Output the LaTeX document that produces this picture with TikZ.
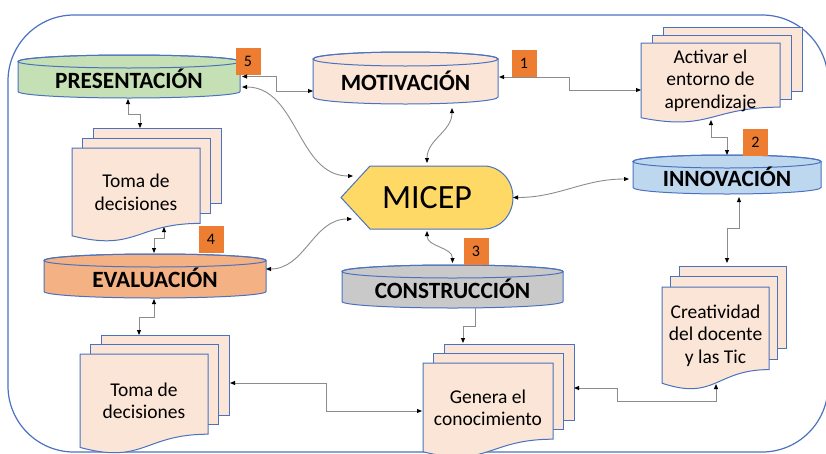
\documentclass[tikz,border=0pt]{standalone}
\usepackage{fontspec}
\setmainfont{Carlito}
\usetikzlibrary{arrows.meta,calc}
\definecolor{peach}{HTML}{FBE5D6}
\definecolor{pgreen}{HTML}{C5E0B4}
\definecolor{pblue}{HTML}{BDD7EE}
\definecolor{porange}{HTML}{F4B183}
\definecolor{pgray}{HTML}{C9C9C9}
\definecolor{pgold}{HTML}{FFD966}
\definecolor{badgeor}{HTML}{ED7D31}
\definecolor{edge}{HTML}{4A72BE}
\definecolor{conn}{HTML}{8C8C8C}
\tikzset{
  shapeline/.style={draw=edge, line width=1pt},
  box/.style={inner sep=0pt, outer sep=0pt, draw=none},
  cyltext/.style={font=\fontsize{23.3}{26}\selectfont\bfseries, inner sep=0pt, anchor=base},
  doctext/.style={font=\fontsize{19.5}{22.5}\selectfont, align=center, inner sep=0pt},
  badge/.style={fill=badgeor, minimum width=25pt, minimum height=27pt, inner sep=0pt, font=\fontsize{16}{16}\selectfont},
  tip/.tip={Triangle[length=5pt,width=4pt,color=black]},
  link/.style={draw=conn, line width=0.9pt, tip-tip},
  linkone/.style={draw=conn, line width=0.9pt, -tip},
}
\newcommand\Cyl[8]{%
  \pgfmathsetmacro\cylhw{(#4-#2)/2}%
  \pgfmathsetmacro\cylcx{(#2+#4)/2}%
  \pgfmathsetmacro\cylcy{(#3+#5)/2}%
  \pgfmathsetmacro\cylty{(#3+#5)/2+#6/2+8.5}%
  \pgfmathsetmacro\cylht{#5-#3}%
  \pgfmathsetmacro\cylwd{#4-#2}%
  \filldraw[shapeline, fill=#7] (#2,#3+#6) -- (#2,#5-#6)
     arc[start angle=180,end angle=360,x radius=\cylhw pt,y radius=#6pt]
     -- (#4,#3+#6)
     arc[start angle=0,end angle=180,x radius=\cylhw pt,y radius=#6pt] -- cycle;
  \draw[shapeline] (\cylcx,#3+#6) ellipse[x radius=\cylhw pt,y radius=#6pt];
  \node[box, minimum width=\cylwd pt, minimum height=\cylht pt] (#1) at (\cylcx,\cylcy) {};
  \node[cyltext] (#1-t) at (\cylcx,\cylty) {#8};
}
\newcommand\Docs[8]{%
  \pgfmathsetmacro\docA{#3+0.802*#5}%
  \pgfmathsetmacro\docB{#3+1.107*#5}%
  \pgfmathsetmacro\docC{#3+0.934*#5}%
  \pgfmathsetmacro\docM{#2+0.5*#4}%
  \pgfmathsetmacro\docR{#2+#4}%
  \pgfmathsetmacro\docBW{#4+2*#6}%
  \pgfmathsetmacro\docBH{#5+2*#7}%
  \pgfmathsetmacro\docBX{#2+#4/2+#6}%
  \pgfmathsetmacro\docBY{#3+#5/2-#7}%
  \pgfmathsetmacro\docTY{#3+0.47*#5}%
  \filldraw[shapeline, fill=peach] (#2+2*#6,#3-2*#7) rectangle (\docR+2*#6,\docA-2*#7);
  \filldraw[shapeline, fill=peach] (#2+#6,#3-#7) rectangle (\docR+#6,\docA-#7);
  \filldraw[shapeline, fill=peach] (#2,#3) -- (\docR,#3) -- (\docR,\docA)
     .. controls (\docM,\docA) and (\docM,\docB) .. (#2,\docC) -- cycle;
  \node[box, minimum width=\docBW pt, minimum height=\docBH pt] (#1) at (\docBX,\docBY) {};
  \node[doctext] (#1-t) at (\docM,\docTY) {#8};
}
\begin{document}
\begin{tikzpicture}[x=1pt,y=-1pt]
\useasboundingbox (0,0) rectangle (826,453);
\draw[draw=edge, line width=1.2pt, rounded corners=66pt] (8,15) rectangle (828,452);

% cylinders
\Cyl{pres}{18}{55}{240}{98}{6.5}{pgreen}{PRESENTACIÓN}
\Cyl{mot}{313}{52}{498}{104}{7}{peach}{MOTIVACIÓN}
\Cyl{inn}{633}{155}{821}{194}{6.5}{pblue}{INNOVACIÓN}
\Cyl{eva}{44}{254}{266}{298}{6.5}{porange}{EVALUACIÓN}
\Cyl{con}{342}{265}{563}{308}{6.5}{pgray}{CONSTRUCCIÓN}

% document stacks
\Docs{act}{641}{43}{139}{80}{11}{8}{Activar el\\entorno de\\aprendizaje}
\Docs{tone}{72}{148}{128}{94}{10.5}{10}{Toma de\\decisiones}
\Docs{ttwo}{80}{354}{128}{100}{10.5}{9.5}{Toma de\\decisiones}
\Docs{gen}{423}{363}{130}{95}{10.5}{9.5}{Genera el\\conocimiento}
\Docs{cre}{662}{287}{107}{103}{8.5}{10.5}{Creatividad\\del docente\\y las Tic}

% MICEP
\filldraw[shapeline, fill=pgold] (341,197.5) -- (370,166) -- (484,166)
   arc[start angle=90,end angle=-90,x radius=29pt,y radius=31.5pt] -- (370,229) -- cycle;
\node[box, minimum width=172pt, minimum height=63pt] (micep) at (427,197.5) {};
\node[font=\fontsize{34}{34}\selectfont, inner sep=0pt] (micep-t) at (427,197.5) {MICEP};

% badges
\node[badge] (b5) at (248,61.5) {5};
\node[badge] (b1) at (524,63.5) {1};
\node[badge] (b2) at (755.5,142) {2};
\node[badge] (b4) at (211,239) {4};
\node[badge] (b3) at (476,251.5) {3};

% connectors
\draw[link] ($(pres.east)+(2,0)$) -- ++(34,0) |- ($(mot.west)+(0,13)$);
\draw[link] ($(mot.east)+(1,-1)$) -- ++(70,0) |- ($(act.west)+(0,15)$);
\draw[link] ($(pres.east)+(2,10.5)$) to[out=0,in=180] ($(micep.west)+(12,-21.5)$);
\draw[link] ($(mot.south)+(46.5,4)$) to[out=-90,in=90] ($(micep.north)+(0,-3)$);
\draw[link] ($(inn.west)+(-4,4.5)$) to[out=180,in=0] (micep.east);
\draw[link] ($(act.south)+(-10.5,-3)$) -- ++(0,17) -| (inn.north);
\draw[link] ($(inn.south)+(12,3)$) -- ++(0,31) -| ($(cre.north)+(3,-3)$);
\draw[link] ($(micep.south)+(0,2)$) to[out=-90,in=90] ($(con.north)+(0,-2)$);
\draw[link] ($(micep.west)+(11,21.5)$) to[out=180,in=0] ($(eva.east)+(0,-7)$);
\draw[link] ($(pres.south)+(-1,1)$) -- ++(0,15) -| ($(tone.north)+(-6.5,0)$);
\draw[link] ($(tone.south)+(17.5,-15)$) -- ++(0,11) -| ($(eva.north)+(-1,-1)$);
\draw[link] ($(eva.south)+(-1,1)$) -- ++(0,18) -| ($(ttwo.north)+(-15.5,0)$);
\draw[link] ($(ttwo.east)+(1,-11.5)$) -- ++(96,0) |- ($(gen.west)+(-1,10)$);
\draw[linkone] ($(con.south)+(22.5,0)$) -- ++(0,18) -| ($(gen.north)+(-35.5,-1)$);
\draw[link] ($(gen.east)+(0,-13)$) -- ++(43,0) -- ++(0,13) -| ($(cre.south)+(-8,-6)$);
\end{tikzpicture}
\end{document}
